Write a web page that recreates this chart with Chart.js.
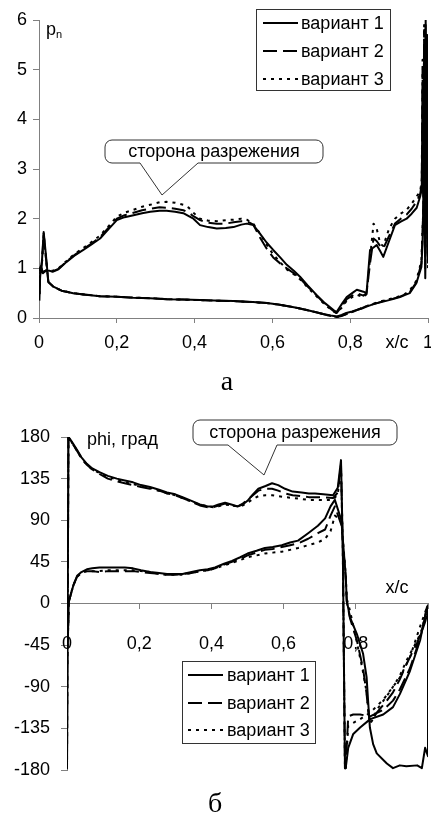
<!DOCTYPE html>
<html>
<head>
<meta charset="utf-8">
<script src="https://cdn.jsdelivr.net/npm/chart.js@4.4.1/dist/chart.umd.min.js"></script>
<style>
  body { margin: 0; background: #fff; }
  canvas { display: block; }
</style>
</head>
<body>
<canvas id="pnChart" width="431" height="400"></canvas>
<canvas id="phiChart" width="431" height="420"></canvas>
<script>
// ---- data: pressure p_n along the profile (suction side 0 -> 1, then pressure side 1 -> 0)
const variantLabels = ['вариант 1', 'вариант 2', 'вариант 3'];

const pnXUp = [
  0, 0.005, 0.01, 0.02, 0.035, 0.05, 0.071, 0.09, 0.114, 0.135,
  0.157, 0.18, 0.2, 0.22, 0.243, 0.265, 0.286, 0.31, 0.328, 0.35,
  0.371, 0.385, 0.397, 0.414, 0.435, 0.457, 0.48, 0.5, 0.52, 0.534,
  0.551, 0.568, 0.585, 0.602, 0.62, 0.637, 0.655, 0.671, 0.69, 0.714,
  0.735, 0.757, 0.765, 0.78, 0.791, 0.805, 0.817, 0.834, 0.842, 0.851,
  0.86, 0.868, 0.877, 0.885, 0.9, 0.915, 0.93, 0.945, 0.958, 0.971,
  0.98, 0.984, 0.986, 0.988, 0.99, 0.992, 0.994, 0.996, 0.998, 1.0
];
const pnUp1 = [
  0.95, 1.05, 0.9, 0.97, 0.93, 0.98, 1.13, 1.25, 1.37, 1.48,
  1.6, 1.8, 1.97, 2.03, 2.07, 2.11, 2.14, 2.16, 2.16, 2.14,
  2.11, 2.05, 2.0, 1.87, 1.83, 1.8, 1.81, 1.83, 1.88, 1.9,
  1.87, 1.7, 1.52, 1.37, 1.22, 1.07, 0.95, 0.83, 0.66, 0.46,
  0.3, 0.16, 0.12, 0.3, 0.42, 0.5, 0.57, 0.53, 0.5, 1.37,
  1.42, 1.47, 1.35, 1.23, 1.55, 1.87, 1.94, 2.0, 2.1, 2.22,
  2.45, 2.6, 4.6, 2.2, 5.5, 1.8, 6.0, 2.6, 5.7, 1.2
];
const pnUp2 = [
  0.95, 1.02, 0.92, 0.96, 0.94, 0.99, 1.14, 1.26, 1.39, 1.5,
  1.63, 1.83, 2.0, 2.07, 2.12, 2.17, 2.2, 2.23, 2.22, 2.2,
  2.17, 2.12, 2.05, 1.97, 1.92, 1.9, 1.9, 1.93, 1.95, 1.95,
  1.88, 1.62, 1.4, 1.22, 1.1, 1.0, 0.9, 0.8, 0.64, 0.45,
  0.28, 0.14, 0.1, 0.25, 0.38, 0.45, 0.5, 0.45, 0.5, 1.1,
  1.6, 1.55, 1.45, 1.4, 1.65, 1.9, 2.0, 2.08, 2.2, 2.35,
  2.5, 2.7, 5.0, 2.4, 5.8, 1.6, 5.9, 2.2, 5.5, 1.1
];
const pnUp3 = [
  0.95, 1.0, 0.93, 0.96, 0.95, 1.0, 1.15, 1.28, 1.41, 1.53,
  1.66, 1.86, 2.04, 2.12, 2.18, 2.24, 2.28, 2.33, 2.34, 2.32,
  2.28, 2.22, 2.12, 2.0, 1.96, 1.95, 1.97, 1.98, 2.0, 1.98,
  1.9, 1.7, 1.48, 1.28, 1.12, 0.98, 0.88, 0.78, 0.62, 0.43,
  0.27, 0.13, 0.1, 0.22, 0.35, 0.42, 0.47, 0.42, 0.48, 1.2,
  1.9, 1.8, 1.5, 1.45, 1.8, 2.0, 2.1, 2.18, 2.3, 2.45,
  2.55, 2.8, 5.2, 2.5, 5.9, 2.0, 5.6, 2.5, 5.3, 1.0
];
const pnXLow = [
  0.997, 0.993, 0.99, 0.986, 0.983, 0.97, 0.953, 0.94, 0.928, 0.91,
  0.885, 0.86, 0.842, 0.83, 0.817, 0.805, 0.79, 0.778, 0.766, 0.75,
  0.73, 0.71, 0.688, 0.665, 0.645, 0.615, 0.586, 0.55, 0.5, 0.45,
  0.414, 0.37, 0.329, 0.285, 0.242, 0.2, 0.157, 0.12, 0.088, 0.058,
  0.037, 0.024, 0.018, 0.012, 0.008, 0.005, 0.003, 0.001
];
const pnLow1 = [
  3.8, 0.8, 3.2, 1.5, 1.03, 0.7, 0.5, 0.46, 0.42, 0.38,
  0.33, 0.28, 0.23, 0.19, 0.16, 0.13, 0.1, 0.06, 0.03, 0.05,
  0.08, 0.12, 0.16, 0.2, 0.23, 0.27, 0.3, 0.32, 0.34, 0.35,
  0.36, 0.37, 0.38, 0.4, 0.41, 0.43, 0.44, 0.47, 0.5, 0.55,
  0.63, 0.73, 1.25, 1.73, 1.2, 0.95, 0.85, 0.35
];
const pnLow2 = [
  4.2, 1.0, 2.8, 1.7, 1.1, 0.72, 0.52, 0.47, 0.43, 0.39,
  0.34, 0.28, 0.24, 0.2, 0.16, 0.12, 0.08, 0.04, 0.02, 0.04,
  0.08, 0.12, 0.16, 0.2, 0.23, 0.27, 0.3, 0.32, 0.34, 0.35,
  0.36, 0.37, 0.38, 0.4, 0.41, 0.43, 0.44, 0.47, 0.5, 0.55,
  0.63, 0.72, 1.2, 1.7, 1.15, 0.95, 0.9, 0.4
];
const pnLow3 = [
  3.5, 1.2, 2.6, 1.8, 1.15, 0.75, 0.55, 0.48, 0.44, 0.4,
  0.35, 0.29, 0.24, 0.2, 0.16, 0.12, 0.08, 0.04, 0.02, 0.04,
  0.08, 0.12, 0.16, 0.2, 0.23, 0.27, 0.3, 0.32, 0.34, 0.35,
  0.36, 0.37, 0.38, 0.4, 0.41, 0.43, 0.44, 0.47, 0.5, 0.55,
  0.63, 0.72, 1.2, 1.68, 1.15, 0.95, 0.9, 0.45
];

// ---- data: phase phi (deg), one loop per variant
const phiXUp = [
  0, 0.004, 0.008, 0.018, 0.028, 0.04, 0.055, 0.07, 0.09, 0.113,
  0.138, 0.16, 0.183, 0.205, 0.23, 0.255, 0.277, 0.3, 0.32, 0.345,
  0.368, 0.39, 0.405, 0.42, 0.438, 0.455, 0.473, 0.487, 0.5, 0.515,
  0.53, 0.55, 0.568, 0.585, 0.604, 0.625, 0.65, 0.67, 0.687, 0.71,
  0.737, 0.75, 0.759, 0.764, 0.767, 0.77
];
const phiUp1 = [
  -178, 180, 178, 172, 166, 158, 151, 146, 142, 138,
  135, 133, 131, 128, 126, 123, 120, 118, 115, 111,
  107, 105, 105, 107, 109, 107, 105, 107, 111, 118,
  124, 127, 130, 128, 124, 121, 120, 119, 119, 118,
  117, 125, 155, 60, -60, -178
];
const phiUp2 = [
  -178, 180, 177, 171, 165, 157, 150, 145, 140, 135,
  132, 130, 128, 126, 124, 122, 119, 117, 114, 110,
  106, 104, 104, 106, 108, 106, 105, 108, 112, 117,
  122, 124, 124, 122, 119, 117, 116, 115, 115, 115,
  114, 120, 150, 60, -60, -178
];
const phiUp3 = [
  -178, 180, 178, 171, 165, 157, 150, 145, 141, 137,
  134, 131, 129, 127, 125, 122, 119, 117, 114, 110,
  107, 105, 104, 105, 107, 106, 105, 106, 109, 113,
  116, 117, 117, 116, 115, 114, 113, 112, 112, 112,
  112, 118, 148, 60, -60, -178
];
const phiXB = [0.772, 0.779, 0.793, 0.812, 0.84, 0.876, 0.903, 0.922, 0.95, 0.978, 0.997, 1.0];
const phiB1 = [-178, -156, -141, -134, -125, -120, -112, -98, -73, -40, -4, -2];
const phiB2 = [-178, -122, -120, -120, -122, -115, -105, -93, -70, -38, -5, -3];
const phiB3 = [-178, -132, -129, -125, -118, -104, -90, -80, -58, -25, -4, -2];
const phiXA = [1.0, 0.992, 0.983, 0.97, 0.94, 0.922, 0.903, 0.886, 0.858, 0.848, 0.839, 0.834, 0.83, 0.82, 0.803, 0.784, 0.775];
const phiA1 = [-165, -156, -178, -175, -176, -175, -178, -173, -162, -152, -134, -105, -80, -54, -33, -15, 3];
const phiA2 = [-8, -20, -30, -42, -66, -82, -96, -105, -118, -124, -128, -115, -98, -70, -40, -16, 2];
const phiA3 = [-6, -15, -28, -40, -62, -78, -90, -100, -115, -125, -130, -112, -96, -74, -42, -8, 5];
const phiXL = [
  0.772, 0.76, 0.742, 0.73, 0.715, 0.695, 0.668, 0.64, 0.618, 0.595,
  0.57, 0.548, 0.525, 0.5, 0.48, 0.457, 0.435, 0.41, 0.39, 0.368,
  0.345, 0.32, 0.3, 0.277, 0.255, 0.23, 0.205, 0.183, 0.16, 0.138,
  0.113, 0.09, 0.07, 0.055, 0.04, 0.028, 0.018, 0.012, 0.005, 0.001,
  0
];
const phiL1 = [
  30, 90, 112, 105, 92, 84, 76, 68, 66, 63,
  61, 60, 57, 54, 50, 46, 43, 39, 37, 36,
  34, 32, 32, 32, 33, 34, 36, 38, 39, 39,
  39, 39, 38, 37, 34, 30, 20, 12, 2, -60,
  -178
];
const phiL2 = [
  28, 85, 105, 95, 80, 76, 70, 65, 63, 61,
  59, 58, 55, 52, 48, 45, 42, 38, 36, 35,
  33, 32, 31, 31, 32, 33, 34, 35, 35, 35,
  35, 34, 35, 35, 33, 29, 20, 12, 2, -60,
  -178
];
const phiL3 = [
  32, 90, 95, 78, 70, 66, 63, 60, 58, 56,
  55, 54, 52, 50, 47, 44, 41, 38, 36, 35,
  33, 31, 31, 31, 32, 34, 35, 36, 36, 36,
  36, 35, 35, 35, 33, 29, 20, 12, 2, -60,
  -178
];

const FONT = "'Liberation Sans', Arial, sans-serif";
const SERIF = "'Liberation Serif', 'Times New Roman', serif";

function makeDatasets(xs, series) {
  const dashes = [[], [14, 6], [3, 5]];
  return series.map((ys, i) => ({
    label: variantLabels[i],
    data: xs.map((x, k) => ({ x: x, y: ys[k] })),
    showLine: true,
    pointRadius: 0,
    borderColor: '#000',
    borderWidth: 2,
    borderDash: dashes[i],
    borderJoinStyle: 'round',
    tension: 0,
    fill: false
  }));
}

function fmtX(hideLast) {
  return v => (hideLast && v === 1) ? '' : String(Math.round(v * 10) / 10).replace('.', ',');
}

// callouts, legend frame and free labels
function notes(cfg) {
  return {
    id: 'notes',
    afterDraw(chart) {
      const ctx = chart.ctx;
      ctx.save();
      ctx.fillStyle = '#000';
      ctx.textBaseline = 'middle';

      // callout
      const c = cfg.callout;
      const [l, t, r, b] = c.box;
      const rad = 7;
      ctx.beginPath();
      ctx.moveTo(l + rad, t);
      ctx.lineTo(r - rad, t); ctx.arcTo(r, t, r, t + rad, rad);
      ctx.lineTo(r, b - rad); ctx.arcTo(r, b, r - rad, b, rad);
      ctx.lineTo(c.base[1], b); ctx.lineTo(c.tip[0], c.tip[1]); ctx.lineTo(c.base[0], b);
      ctx.lineTo(l + rad, b); ctx.arcTo(l, b, l, b - rad, rad);
      ctx.lineTo(l, t + rad); ctx.arcTo(l, t, l + rad, t, rad);
      ctx.closePath();
      ctx.fillStyle = '#fff';
      ctx.fill();
      ctx.strokeStyle = '#333';
      ctx.lineWidth = 1;
      ctx.stroke();
      ctx.fillStyle = '#000';
      ctx.font = '18px ' + FONT;
      ctx.textAlign = 'center';
      ctx.fillText(c.text, (l + r) / 2, (t + b) / 2 + 1);

      // legend
      const g = cfg.legend;
      ctx.fillStyle = '#fff';
      ctx.fillRect(g.box[0], g.box[1], g.box[2] - g.box[0], g.box[3] - g.box[1]);
      ctx.strokeStyle = '#333';
      ctx.lineWidth = 1;
      ctx.strokeRect(g.box[0] + 0.5, g.box[1] + 0.5, g.box[2] - g.box[0], g.box[3] - g.box[1]);
      ctx.fillStyle = '#000';
      ctx.textAlign = 'left';
      chart.data.datasets.forEach((ds, i) => {
        const y = g.rows[i];
        ctx.strokeStyle = '#000';
        ctx.lineWidth = 2;
        ctx.setLineDash(ds.borderDash);
        ctx.beginPath();
        ctx.moveTo(g.line[0], y);
        ctx.lineTo(g.line[1], y);
        ctx.stroke();
        ctx.setLineDash([]);
        ctx.fillText(ds.label, g.textX, y + 1);
      });

      // plain labels
      cfg.texts.forEach(tx => {
        ctx.font = tx.font;
        ctx.textAlign = tx.align || 'left';
        ctx.fillText(tx.text, tx.x, tx.y);
      });
      ctx.restore();
    }
  };
}

const pnChart = new Chart(document.getElementById('pnChart'), {
  type: 'scatter',
  data: {
    datasets: makeDatasets(pnXUp.concat(pnXLow), [
      pnUp1.concat(pnLow1), pnUp2.concat(pnLow2), pnUp3.concat(pnLow3)
    ])
  },
  options: {
    responsive: false,
    animation: false,
    devicePixelRatio: 1,
    layout: { padding: { top: 20, right: 3, bottom: 0, left: 0 } },
    plugins: { legend: { display: false }, tooltip: { enabled: false } },
    scales: {
      x: {
        type: 'linear', min: 0, max: 1,
        ticks: { stepSize: 0.2, autoSkip: false, maxRotation: 0, color: '#000', padding: 9,
                 font: { family: FONT, size: 18 }, callback: fmtX(false) },
        grid: { drawOnChartArea: false, tickLength: 5, color: '#808080' },
        border: { color: '#808080' },
        afterFit: s => { s.height = 82; s.paddingLeft = 0; s.paddingRight = 0; }
      },
      y: {
        min: 0, max: 6,
        ticks: { stepSize: 1, color: '#000', padding: 6, font: { family: FONT, size: 18 } },
        grid: { drawOnChartArea: false, tickLength: 6, color: '#808080' },
        border: { color: '#808080' },
        afterFit: s => { s.width = 39; }
      }
    }
  },
  plugins: [notes({
    callout: { box: [105, 140, 323, 163], base: [140, 198], tip: [162, 195], text: 'сторона разрежения' },
    legend: { box: [256, 9, 390, 90], rows: [23, 51, 79], line: [263, 298], textX: 301 },
    texts: [
      { text: 'p', x: 46, y: 30, font: '18px ' + FONT },
      { text: 'n', x: 56, y: 35, font: '11px ' + FONT },
      { text: 'x/c', x: 397, y: 343, font: '18px ' + FONT, align: 'center' },
      { text: 'а', x: 227, y: 383, font: '28px ' + SERIF, align: 'center' }
    ]
  })]
});

const phiChart = new Chart(document.getElementById('phiChart'), {
  type: 'scatter',
  data: {
    datasets: makeDatasets(phiXUp.concat(phiXB, phiXA, phiXL), [
      phiUp1.concat(phiB1, phiA1, phiL1),
      phiUp2.concat(phiB2, phiA2, phiL2),
      phiUp3.concat(phiB3, phiA3, phiL3)
    ])
  },
  options: {
    responsive: false,
    animation: false,
    devicePixelRatio: 1,
    layout: { padding: { top: 37, right: 3, bottom: 50, left: 0 } },
    plugins: { legend: { display: false }, tooltip: { enabled: false } },
    scales: {
      x: {
        type: 'linear', min: 0, max: 1,
        position: { y: 0 },
        ticks: { stepSize: 0.2, autoSkip: false, maxRotation: 0, color: '#000', padding: 25,
                 font: { family: FONT, size: 18 }, callback: fmtX(true) },
        grid: { drawOnChartArea: false, tickLength: 5, color: '#808080' },
        border: { color: '#808080' },
        afterFit: s => { s.paddingLeft = 0; s.paddingRight = 0; }
      },
      y: {
        min: -180, max: 180,
        ticks: { stepSize: 45, color: '#000', padding: 11, font: { family: FONT, size: 18 },
                 callback: v => String(v) },
        grid: { drawOnChartArea: false, tickLength: 6, color: '#808080' },
        border: { color: '#808080' },
        afterFit: s => { s.width = 67; }
      }
    }
  },
  plugins: [notes({
    callout: { box: [193, 20, 397, 45], base: [228, 277], tip: [264, 75], text: 'сторона разрежения' },
    legend: { box: [182, 261, 315, 343], rows: [275, 303, 330], line: [188, 223], textX: 227 },
    texts: [
      { text: 'phi, град', x: 87, y: 40, font: '18px ' + FONT },
      { text: 'x/c', x: 397, y: 188, font: '18px ' + FONT, align: 'center' },
      { text: 'б', x: 215, y: 405, font: '28px ' + SERIF, align: 'center' }
    ]
  })]
});
</script>
</body>
</html>
